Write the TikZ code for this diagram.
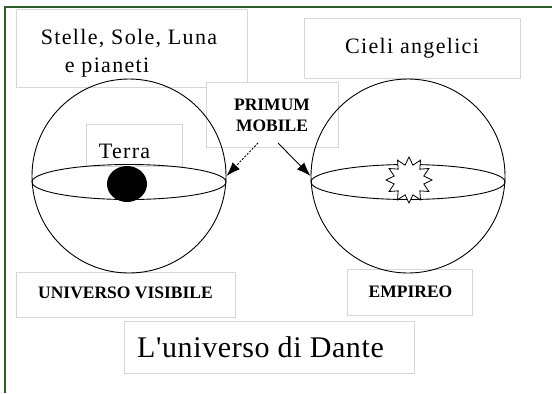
\documentclass[tikz,border=0pt]{standalone}
\usepackage{fontspec}
\setmainfont{Liberation Serif}
\newfontfamily\spaced[LetterSpace=6]{Liberation Serif}
\newfontfamily\wide[LetterSpace=2]{Liberation Serif}
\usetikzlibrary{shapes.geometric, arrows.meta}
\definecolor{frGreen}{RGB}{45, 95, 45}
\definecolor{bxGrey}{RGB}{214, 214, 214}
\tikzset{
  Box/.style    = {draw=bxGrey, line width=0.8bp, fill=white, inner sep=0pt},
  Big/.style    = {font=\spaced\fontsize{22bp}{28bp}\selectfont, inner sep=0pt},
  Caps/.style   = {font=\bfseries\fontsize{17.5bp}{21bp}\selectfont, inner sep=0pt, align=center},
  Sphere/.style = {draw, circle, line width=0.9bp, minimum size=194bp, inner sep=0pt},
  Belt/.style   = {draw, ellipse, line width=0.9bp, minimum width=194bp,
                   minimum height=35bp, inner sep=0pt},
  Arr/.style    = {line width=0.9bp, -{Latex[length=14bp, width=10bp]}},
}

\begin{document}
\begin{tikzpicture}[x=1bp, y=-1bp]
\useasboundingbox (0,0) rectangle (552,393);

% ======================= frame and boxes =================================
\draw[frGreen, line width=1.6bp] (5,393) -- (5,7) -- (552,7);
% name / centre x / centre y / width / height
\foreach \nm/\x/\y/\w/\h in {stelleBox/131.5/48/231/78, cieliBox/412/48/216/60,
                             primumBox/272/114.5/132/65, terraBox/134/145/96/42,
                             visBox/125.5/294.5/219/45, empBox/409.5/292/125/46,
                             danteBox/269/347/290/52}
    \node[Box, minimum width=\w bp, minimum height=\h bp] (\nm) at (\x,\y) {};

% ======================= the two spheres =================================
\node[Sphere] (visibile) at (129,176) {};
\node[Belt]   (visBelt)  at (129,182) {};
\node[ellipse, fill=black, minimum width=40bp, minimum height=36bp,
      inner sep=0pt] (terra) at (127,184) {};

\node[Sphere] (empireo) at (408,176) {};
\node[Belt]   (empBelt) at (408,182) {};
\node[draw, star, star points=12, star point ratio=1.5, minimum size=46bp,
      fill=white, line width=0.8bp, inner sep=0pt] (luce) at (409,180) {};

% ======================= texts ===========================================
\node[Big, align=left] (stelleTxt) at (129,53)
  {Stelle, Sole, Luna\\\hspace*{24bp}e pianeti};
\node[Big] (cieliTxt) at (412,48) {Cieli angelici};
\node[Big] (terraTxt) at (124.5,151) {Terra};
\node[Caps] (primumTxt) at (272,115.5) {PRIMUM\\MOBILE};
\node[Caps] (visTxt) at (125.5,292.5) {UNIVERSO VISIBILE};
\node[Caps] (empTxt) at (410.5,292) {EMPIREO};
\node[font=\wide\fontsize{30bp}{34bp}\selectfont, inner sep=0pt] (danteTxt)
  at (260.5,347) {L'universo di Dante};

% ======================= arrows ==========================================
\coordinate (pmLeft)  at (258,143);
\coordinate (pmRight) at (278,143);
\draw[Arr, dash pattern=on 2bp off 1.5bp] (pmLeft) -- (visibile.east);
\draw[Arr] (pmRight) -- (empireo.west);

\end{tikzpicture}
\end{document}
